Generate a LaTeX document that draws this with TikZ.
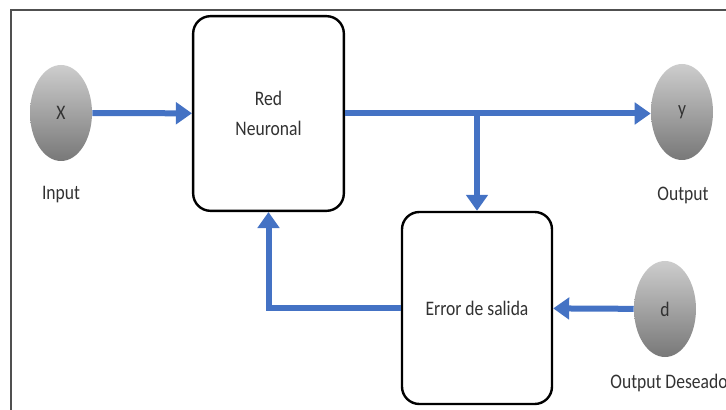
\documentclass[tikz,border=0pt]{standalone}
\usepackage{fontspec}
\setmainfont{Carlito}[FakeStretch=0.85]
\usepackage{tikz}
\usetikzlibrary{arrows.meta,shapes.geometric,positioning}

\definecolor{flowblue}{RGB}{68,114,196}
\definecolor{textgray}{RGB}{50,50,50}
\definecolor{framegray}{RGB}{80,80,80}
\definecolor{balltop}{RGB}{205,205,205}
\definecolor{ballbot}{RGB}{120,120,120}

\tikzset{
  blockbox/.style={draw=black, line width=1.8pt, rounded corners=13pt, fill=white,
    align=center, text=textgray, font=\fontsize{15.5}{23}\selectfont},
  ball/.style={ellipse, minimum width=46.5pt, minimum height=72pt, inner sep=0pt,
    top color=balltop, bottom color=ballbot, text=textgray, font=\fontsize{15.5}{18}\selectfont},
  lbl/.style={inner sep=0.75pt, text=textgray, font=\fontsize{15.5}{18}\selectfont},
  flow/.style={draw=flowblue, line width=4.5pt, -{Triangle[length=12pt,width=16pt]}},
}

\begin{document}
\begin{tikzpicture}[x=0.75pt,y=0.75pt,yscale=-1,xscale=1]
    \useasboundingbox (0,0) rectangle (726,410);

    %Straight Lines [frame]
    \draw[framegray, line width=1pt] (11,410) -- (11,10) -- (726,10) ;

    %Shape: Rectangle [red]
    \node[blockbox, minimum width=113pt, minimum height=146pt] (red) at (268.5,113.5) {Red\\Neuronal};
    %Shape: Rectangle [err]
    \node[blockbox, minimum width=112.5pt, minimum height=144pt] (err) at (477,308) {Error de salida};

    %Shape: Ellipse [inputs and outputs]
    \node[ball] (x) at (61,113) {X};
    \node[ball] (y) at (682,112) {y};
    \node[ball] (d) at (665,309) {d};

    % Text Node
    \node[lbl] (lblx) at (61,195) {Input};
    % Text Node
    \node[lbl] (lbly) at (683,195) {Output};
    % Text Node
    \node[lbl] (lbld) at (669,383) {Output Deseado};

    %Straight Lines [arrows]
    \coordinate (split) at (err.north |- red.east);
    \draw[flow] (x) -- (red) ;
    \draw[flow] (red.east) -- (y.west |- red.east) ;
    \draw[flow] (split) -- (err.north) ;
    \draw[flow] (d) -- (err) ;
    \draw[flow] (err.west) -| (red.south) ;

\end{tikzpicture}
\end{document}
